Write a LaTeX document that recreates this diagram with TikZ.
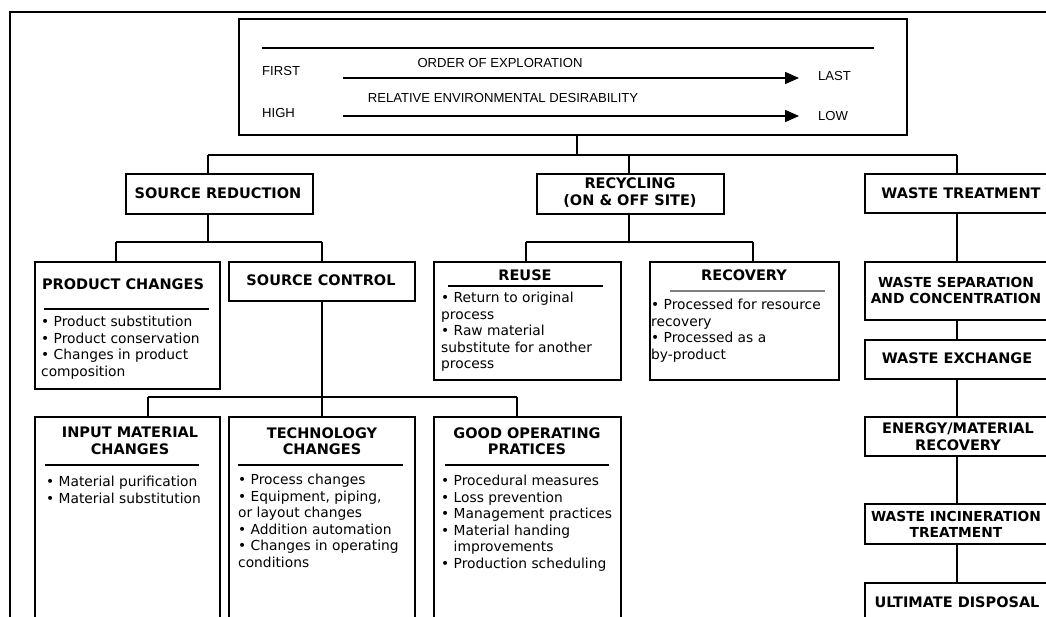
\documentclass[tikz,border=0pt]{standalone}
\usepackage{fontspec}
\setmainfont{DejaVu Sans}
\newfontfamily\hdrfont{Liberation Sans}
\usetikzlibrary{arrows.meta}
\begin{document}
\begin{tikzpicture}[x=1pt,y=-1pt,
 box/.style={draw, line width=1.8pt, inner sep=0pt, anchor=north west},
 conn/.style={line width=1.4pt},
 ttl/.style={font=\bfseries\fontsize{14.5}{16.5}\selectfont, align=center, inner sep=0pt},
 ttlsmall/.style={font=\bfseries\fontsize{13.8}{16.5}\selectfont, align=center, inner sep=0pt},
 bdy/.style={font=\fontsize{13.8}{16.5}\selectfont, align=left, anchor=north west, inner sep=0pt},
 hdrtxt/.style={font=\hdrfont\fontsize{13.1}{15}\selectfont, inner sep=0pt},
 rul/.style={line width=1.4pt},
 arr/.style={line width=1.5pt, -{Triangle[length=14pt,width=12pt]}}
]
\useasboundingbox (0,0) rectangle (1046,616);
\clip (0,0) rectangle (1046,616);
% outer frame
\draw[line width=2.6pt] (10,700) |- (1100,12);

% boxes
\node[box, minimum width=668pt, minimum height=116pt] (hdr) at (238,18) {};
\node[box, minimum width=187pt, minimum height=40pt] (sr) at (125,173) {};
\node[box, minimum width=187pt, minimum height=40pt] (rec) at (536,173) {};
\node[box, minimum width=196pt, minimum height=39pt] (wt) at (864,173) {};
\node[box, minimum width=185pt, minimum height=127pt] (pc) at (34,261) {};
\node[box, minimum width=186pt, minimum height=39pt] (sc) at (228,261) {};
\node[box, minimum width=187pt, minimum height=118pt] (reuse) at (433,261) {};
\node[box, minimum width=189pt, minimum height=118pt] (recov) at (649,261) {};
\node[box, minimum width=196pt, minimum height=58pt] (wsc) at (864,261) {};
\node[box, minimum width=196pt, minimum height=39pt] (we) at (864,339) {};
\node[box, minimum width=196pt, minimum height=39pt] (emr) at (864,416) {};
\node[box, minimum width=196pt, minimum height=40pt] (wi) at (864,503) {};
\node[box, minimum width=196pt, minimum height=60pt] (ud) at (864,582) {};
\node[box, minimum width=185pt, minimum height=230pt] (imc) at (34,416) {};
\node[box, minimum width=186pt, minimum height=230pt] (tc) at (228,416) {};
\node[box, minimum width=187pt, minimum height=230pt] (gop) at (433,416) {};

% header content
\draw[rul] (262,48) -- (874,48);
\node[hdrtxt, anchor=west] (first) at (262,71) {FIRST};
\node[hdrtxt, anchor=west] (last) at (818,76) {LAST};
\node[hdrtxt] (order) at (500,63) {ORDER OF EXPLORATION};
\node[hdrtxt] (relenv) at (503,98) {RELATIVE ENVIRONMENTAL DESIRABILITY};
\node[hdrtxt, anchor=west] (high) at (262,113) {HIGH};
\node[hdrtxt, anchor=west] (low) at (818,116) {LOW};
\coordinate (a1s) at (343,78); \coordinate (a1e) at (799,78);
\coordinate (a2s) at (343,116); \coordinate (a2e) at (799,116);
\draw[arr] (a1s) -- (a1e);
\draw[arr] (a2s) -- (a2e);

% titles
\node[ttl] (srT) at (218,193) {SOURCE REDUCTION};
\node[ttl] (recT) at (630,192.5) {RECYCLING\\(ON \& OFF SITE)};
\node[ttl] (wtT) at (961,193) {WASTE TREATMENT};
\node[ttl] (pcT) at (123,284) {PRODUCT CHANGES};
\node[ttl] (scT) at (321,280) {SOURCE CONTROL};
\node[ttl] (reuseT) at (525,275) {REUSE};
\node[ttl] (recovT) at (744,275) {RECOVERY};
\node[ttl] (imcT) at (130,441) {INPUT MATERIAL\\CHANGES};
\node[ttl] (tcT) at (322,441) {TECHNOLOGY\\CHANGES};
\node[ttl] (gopT) at (527,441) {GOOD OPERATING\\PRATICES};
\node[ttlsmall] (wscT) at (956,290.5) {WASTE SEPARATION\\AND CONCENTRATION};
\node[ttl] (weT) at (957,358) {WASTE EXCHANGE};
\node[ttl] (emrT) at (958,436.5) {ENERGY/MATERIAL\\RECOVERY};
\node[ttlsmall] (wiT) at (956,524.5) {WASTE INCINERATION\\TREATMENT};
\node[ttl] (udT) at (957,602) {ULTIMATE DISPOSAL};

% rules under titles
\draw[rul] (44,309) -- (209,309);
\draw[rul] (448,286) -- (603,286);
\draw[rul, gray] (670,291) -- (825,291);
\draw[rul] (45,465) -- (199,465);
\draw[rul] (238,465) -- (403,465);
\draw[rul] (445,465) -- (609,465);

% body texts
\node[bdy] (pcB) at (41,316) {• Product substitution\\• Product conservation\\• Changes in product\\composition};
\node[bdy] (reuseB) at (441,292) {• Return to original\\process\\• Raw material\\substitute for another\\process};
\node[bdy] (recovB) at (651,299) {• Processed for resource\\recovery\\• Processed as a\\by-product};
\node[bdy] (imcB) at (46,476) {• Material purification\\• Material substitution};
\node[bdy] (tcB) at (238,474) {• Process changes\\• Equipment, piping,\\or layout changes\\• Addition automation\\• Changes in operating\\conditions};
\node[bdy] (gopB) at (441,475) {• Procedural measures\\• Loss prevention\\• Management practices\\• Material handing\\\phantom{• }improvements\\• Production scheduling};

% connectors: top level
\coordinate (j0) at (577,155);
\coordinate (j1) at (208,155);
\coordinate (j2) at (629,155);
\coordinate (j3) at (957,155);
\draw[conn] (hdr.south -| j0) -- (j0);
\draw[conn] (j1) -- (j3);
\draw[conn] (j1) -- (j1 |- sr.north);
\draw[conn] (j2) -- (j2 |- rec.north);
\draw[conn] (j3) -- (j3 |- wt.north);

% source reduction
\coordinate (k0) at (208,242);
\coordinate (k1) at (116,242);
\coordinate (k2) at (322,242);
\draw[conn] (sr.south -| k0) -- (k0);
\draw[conn] (k1) -- (k2);
\draw[conn] (k1) -- (k1 |- pc.north);
\draw[conn] (k2) -- (k2 |- sc.north);

% recycling
\coordinate (m0) at (629,242);
\coordinate (m1) at (526,242);
\coordinate (m2) at (753,242);
\draw[conn] (rec.south -| m0) -- (m0);
\draw[conn] (m1) -- (m2);
\draw[conn] (m1) -- (m1 |- reuse.north);
\draw[conn] (m2) -- (m2 |- recov.north);

% source control
\coordinate (n0) at (322,397);
\coordinate (n1) at (148,397);
\coordinate (n2) at (517,397);
\draw[conn] (sc.south -| n0) -- (n0);
\draw[conn] (n1) -- (n2);
\draw[conn] (n1) -- (n1 |- imc.north);
\draw[conn] (n0) -- (n0 |- tc.north);
\draw[conn] (n2) -- (n2 |- gop.north);

% waste treatment chain
\draw[conn] (wt.south -| j3) -- (wsc.north -| j3);
\draw[conn] (wsc.south -| j3) -- (we.north -| j3);
\draw[conn] (we.south -| j3) -- (emr.north -| j3);
\draw[conn] (emr.south -| j3) -- (wi.north -| j3);
\draw[conn] (wi.south -| j3) -- (ud.north -| j3);
\end{tikzpicture}
\end{document}
